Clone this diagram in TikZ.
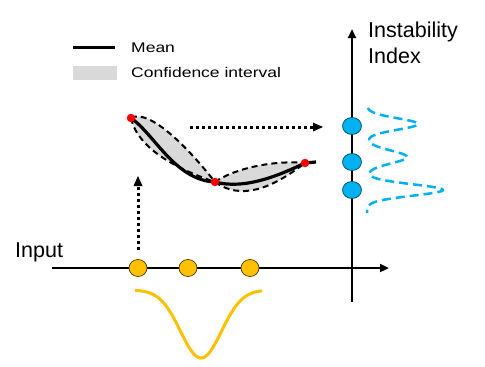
\documentclass[tikz,border=0pt]{standalone}
\usepackage{fontspec}
\setmainfont{Liberation Sans}
\newfontfamily\legfont[FakeStretch=1.25]{Liberation Sans}
\usetikzlibrary{arrows.meta,shapes.geometric}
\definecolor{cgold}{HTML}{FFC000}
\definecolor{cblue}{HTML}{00B0F0}
\definecolor{cband}{HTML}{D9D9D9}
\definecolor{cred}{HTML}{FF0000}
\tikzset{
  axis/.style={line width=2.5pt,-{Triangle[length=9pt,width=8pt]}},
  dotarrow/.style={line width=3pt,dash pattern=on 3pt off 3pt,-{Triangle[length=10pt,width=9pt,line width=0pt]}},
  bigtext/.style={font=\fontsize{21.5}{24}\selectfont,anchor=base west,inner sep=0pt},
  legtext/.style={font=\legfont\fontsize{14}{16}\selectfont,anchor=base west,inner sep=0pt},
  golddot/.style={ellipse,draw=black!70!cgold,line width=0.7pt,fill=cgold,minimum width=18pt,minimum height=17pt,inner sep=0pt},
  bluedot/.style={ellipse,draw=black!60!cblue,line width=0.7pt,fill=cblue,minimum width=19pt,minimum height=17pt,inner sep=0pt},
  reddot/.style={circle,fill=cred,minimum size=8.5pt,inner sep=0pt},
  bandline/.style={line width=2pt,dash pattern=on 6pt off 4pt},
}
\begin{document}
\begin{tikzpicture}[x=1pt,y=-1pt]
\useasboundingbox (0,0) rectangle (485,367);
% legend
\draw[line width=3pt] (73,47) coordinate (l1a) -- (115,47) coordinate (l1b);
\node[legtext] (tmean) at (131,52.5) {Mean};
\fill[cband] (73,66) rectangle (117,80);
\node[legtext] (tci) at (131,77) {Confidence interval};
% axes
\coordinate (hs) at (52,268);
\coordinate (he) at (389,268);
\draw[axis] (hs) -- (he);
\coordinate (vs) at (352,302);
\coordinate (ve) at (352,29);
\draw[axis] (vs) -- (ve);
\node[bigtext] (tinput) at (15,257) {Input};
\node[bigtext] (tinst) at (368,37) {Instability};
\node[bigtext] (tindex) at (368,63) {Index};
% confidence band
\fill[cband] (131,118) .. controls (150,108) and (190,150) .. (215,182)
  .. controls (235,168) and (275,160) .. (305,163)
  .. controls (270,190) and (240,200) .. (215,182)
  .. controls (180,170) and (138,150) .. (131,118) -- cycle;
\draw[bandline] (131,118) .. controls (150,108) and (190,150) .. (215,182)
  .. controls (235,168) and (275,160) .. (305,163);
\draw[bandline] (131,118) .. controls (138,150) and (180,170) .. (215,182)
  .. controls (240,200) and (270,190) .. (305,163);
% mean
\draw[line width=3.2pt] (131,118) .. controls (155,135) and (175,180) .. (215,182)
  .. controls (245,190) and (280,175) .. (305,163) -- (316,162);
\node[reddot] (r1) at (131,118) {};
\node[reddot] (r2) at (215,182) {};
\node[reddot] (r3) at (305,163) {};
% input points
\node[golddot] (g1) at (138,268) {};
\node[golddot] (g2) at (188,268) {};
\node[golddot] (g3) at (250,268) {};
% output points
\node[bluedot] (b1) at (352,126) {};
\node[bluedot] (b2) at (352,162) {};
\node[bluedot] (b3) at (352,190) {};
% dotted arrows
\coordinate (da1) at (138,250);
\coordinate (da2) at (138,176);
\draw[dotarrow] (da1) -- (da2);
\coordinate (db1) at (190,127);
\coordinate (db2) at (323,127);
\draw[dotarrow] (db1) -- (db2);
% gold gaussian
\draw[cgold,line width=3pt] plot[domain=135:262,samples=90,variable=\t]
  ({\t},{290+68*exp(-((\t-201)/29)^2)});
% blue mixture
\draw[cblue,line width=2.5pt,dash pattern=on 9pt off 5pt] plot[domain=108:213,samples=140,variable=\t]
  ({367+51*exp(-((\t-124)/8)^2)+40*exp(-((\t-157)/9)^2)+76*exp(-((\t-190)/8)^2)},{\t});
\end{tikzpicture}
\end{document}
